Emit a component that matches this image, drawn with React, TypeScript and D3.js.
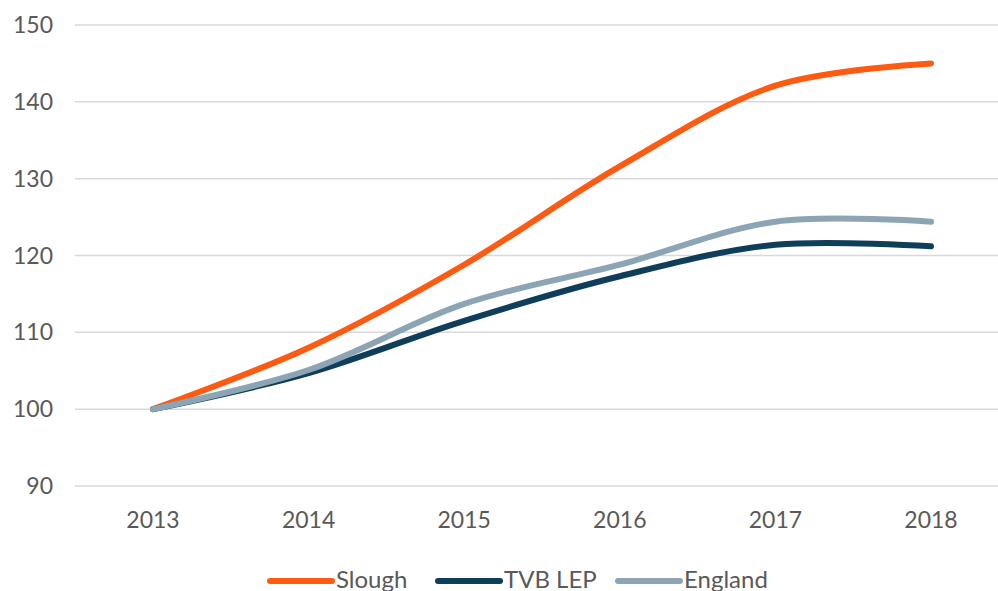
import React from "react";
import * as d3 from "d3";

const years = ["2013", "2014", "2015", "2016", "2017", "2018"];
const slough = [100, 108.0, 118.8, 131.6, 142.1, 145.0];
const tvb = [100, 104.7, 111.5, 117.3, 121.4, 121.2];
const england = [100, 105.1, 113.7, 118.8, 124.4, 124.4];
const yTicks = [90, 100, 110, 120, 130, 140, 150];

const seriesList = [
  { name: "Slough", values: slough, color: "#FF5A12" },
  { name: "TVB LEP", values: tvb, color: "#0F3E5A" },
  { name: "England", values: england, color: "#8CA5B4" },
];

export default function App() {
  const W = 998, H = 591;
  const x = d3.scalePoint<string>().domain(years).range([153, 931]);
  const y = d3.scaleLinear().domain([90, 150]).range([486, 25]);
  const line = d3
    .line<number>()
    .x((_, i) => x(years[i]) as number)
    .y((d) => y(d))
    .curve(d3.curveCatmullRom.alpha(0.5));
  const font = "Lato, 'Open Sans', sans-serif";
  const legendX = [270, 438, 618];
  return (
    <svg width={W} height={H} style={{ position: "absolute", left: 0, top: 0, background: "#fff" }}>
      {yTicks.map((t) => (
        <g key={t}>
          <line x1={75} x2={998} y1={y(t)} y2={y(t)} stroke="#d9d9d9" strokeWidth={1.5} />
          <text x={53} y={y(t)} dy="0.35em" textAnchor="end" fontSize={23} fill="#595959" fontFamily={font}>
            {t}
          </text>
        </g>
      ))}
      {years.map((yr) => (
        <text key={yr} x={x(yr)} y={528} textAnchor="middle" fontSize={23} fill="#595959" fontFamily={font}>
          {yr}
        </text>
      ))}
      {seriesList.map((s) => (
        <path
          key={s.name}
          d={line(s.values) || ""}
          fill="none"
          stroke={s.color}
          strokeWidth={6}
          strokeLinecap="round"
          strokeLinejoin="round"
        />
      ))}
      {seriesList.map((s, i) => (
        <g key={s.name}>
          <line x1={legendX[i]} x2={legendX[i] + 62} y1={581} y2={581} stroke={s.color} strokeWidth={6} strokeLinecap="round" />
          <text x={legendX[i] + 66} y={588} fontSize={24} fill="#595959" fontFamily={font}>
            {s.name}
          </text>
        </g>
      ))}
    </svg>
  );
}
